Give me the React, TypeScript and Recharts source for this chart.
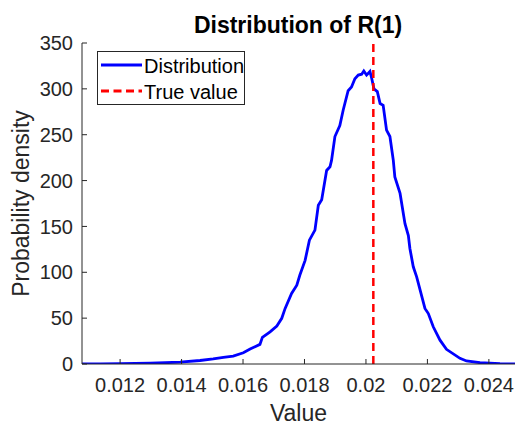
import { LineChart, Line, XAxis, YAxis, ReferenceLine, Legend } from 'recharts';

// sample positions and estimated density
const values = [
  0.01076, 0.01135, 0.012, 0.01298, 0.01395, 0.0146, 0.01503, 0.01536, 0.01568, 0.01601,
  0.01623, 0.01655, 0.01663, 0.01688, 0.0171, 0.01726, 0.01737, 0.01758, 0.01775, 0.01785,
  0.01802, 0.01816, 0.01834, 0.01845, 0.01856, 0.01872, 0.01883, 0.01888, 0.01899, 0.01915,
  0.01926, 0.01942, 0.01953, 0.01964, 0.01975, 0.01986, 0.01993, 0.02002, 0.02013, 0.02019,
  0.02026, 0.02037, 0.02046, 0.02056, 0.02067, 0.02078, 0.02089, 0.02094, 0.02111, 0.02127,
  0.02138, 0.02143, 0.02154, 0.02165, 0.02192, 0.02203, 0.02219, 0.02241, 0.02262, 0.02306,
  0.02327, 0.02371, 0.02403, 0.02436, 0.02485,
];
const density = [
  0, 0.1, 0.3, 0.8, 2, 3.8, 5.5, 7.3, 8.7, 12.3,
  16.3, 21.4, 29, 35, 41.4, 49.8, 60.6, 77, 86, 97,
  113, 135, 146, 173, 179, 211, 215, 222, 248, 260,
  277, 298, 302, 311, 315, 316, 319.5, 315, 319, 311,
  300, 297, 284, 282, 255, 248, 222, 204, 186, 153,
  140, 126, 106, 95, 60.6, 55, 40.6, 26, 16, 6.2,
  3.3, 1.4, 0.8, 0.3, 0,
];
const xTicks = [0.012, 0.014, 0.016, 0.018, 0.02, 0.022, 0.024];
const yTicks = [0, 50, 100, 150, 200, 250, 300, 350];
const trueValue = 0.02024;

const legendItems = [
  { label: 'Distribution', color: '#0000ff', dash: undefined as string | undefined },
  { label: 'True value', color: '#ff0000', dash: '8 4.5' },
];

const data = values.map((x, i) => ({ x, density: density[i] }));

const font = '"Liberation Sans", Arial, Helvetica, sans-serif';
const ink = '#262626';
const tickStyle = { fill: ink, fontSize: 20, fontFamily: font };

function LegendBox() {
  return (
    <svg width={148} height={54} style={{ display: 'block' }}>
      <rect x={0.5} y={0.5} width={147} height={53} fill="#fff" stroke={ink} strokeWidth={1} />
      {legendItems.map((item, i) => (
        <g key={item.label}>
          <line
            x1={4}
            x2={45}
            y1={14 + i * 26}
            y2={14 + i * 26}
            stroke={item.color}
            strokeWidth={2.8}
            strokeDasharray={item.dash}
          />
          <text x={47} y={22 + i * 26} fontSize={20} fontFamily={font} fill="#000">
            {item.label}
          </text>
        </g>
      ))}
    </svg>
  );
}

export default function App() {
  return (
    <div style={{ position: 'absolute', left: 0, top: 0, width: 517, height: 427, background: '#fff' }}>
      <svg width={517} height={40} style={{ position: 'absolute', left: 0, top: 0 }}>
        <text x={298} y={33} textAnchor="middle" fontSize={23} fontWeight="bold" fontFamily={font} fill="#000">
          Distribution of R(1)
        </text>
      </svg>
      <LineChart
        width={517}
        height={427}
        data={data}
        margin={{ top: 43, right: 2, bottom: 0, left: 0 }}
        style={{ fontFamily: font }}
      >
        <XAxis
          dataKey="x"
          type="number"
          domain={[0.01076, 0.02485]}
          allowDataOverflow
          ticks={xTicks}
          tickFormatter={(v: number) => String(v)}
          height={63}
          stroke={ink}
          tick={tickStyle}
          tickSize={-5}
          tickMargin={19}
          label={{ value: 'Value', position: 'insideBottom', offset: 6, fill: ink, fontSize: 23 }}
        />
        <XAxis
          xAxisId="top"
          orientation="top"
          type="number"
          domain={[0.01076, 0.02485]}
          allowDataOverflow
          ticks={xTicks}
          height={0}
          stroke={ink}
          tick={false}
          tickSize={-5}
        />
        <YAxis
          type="number"
          domain={[0, 350]}
          allowDataOverflow
          ticks={yTicks}
          width={82}
          stroke={ink}
          tick={tickStyle}
          tickSize={-5}
          tickMargin={14}
          label={{
            value: 'Probability density',
            angle: -90,
            position: 'insideLeft',
            offset: 21,
            fill: ink,
            fontSize: 23,
            style: { textAnchor: 'middle' },
          }}
        />
        <YAxis
          yAxisId="right"
          orientation="right"
          type="number"
          domain={[0, 350]}
          allowDataOverflow
          ticks={yTicks}
          width={0}
          stroke={ink}
          tick={false}
          tickSize={-5}
        />
        <Legend
          layout="vertical"
          align="center"
          verticalAlign="middle"
          wrapperStyle={{ left: 97, top: 51, width: 148, height: 54 }}
          content={() => <LegendBox />}
        />
        <Line
          type="linear"
          dataKey="density"
          name="Distribution"
          stroke="#0000ff"
          strokeWidth={2.8}
          dot={false}
          activeDot={false}
          isAnimationActive={false}
        />
        <ReferenceLine x={trueValue} stroke="#ff0000" strokeWidth={2.5} strokeDasharray="8 5" />
      </LineChart>
    </div>
  );
}
